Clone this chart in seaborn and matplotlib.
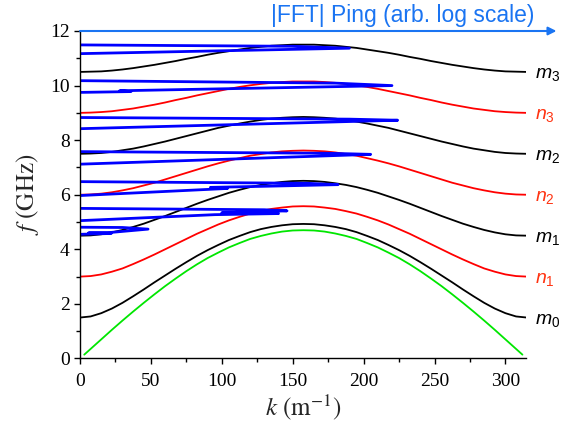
import matplotlib
matplotlib.use("Agg")
import matplotlib.pyplot as plt
from matplotlib.ticker import MultipleLocator
import seaborn as sns

# ---------------- data ----------------
k = [0, 7.5, 15, 22.5, 30, 37.5, 45, 52.5, 60, 67.5, 75, 82.5, 90, 97.5,
     105, 112.5, 120, 127.5, 135, 142.5, 150, 157.5, 165, 172.5, 180,
     187.5, 195, 202.5, 210, 217.5, 225, 232.5, 240, 247.5, 255, 262.5,
     270, 277.5, 285, 292.5, 300, 307.5, 315]
k_green = [3, 7.5, 15, 22.5, 30, 37.5, 45, 52.5, 60, 67.5, 75, 82.5, 90, 97.5,
           105, 112.5, 120, 127.5, 135, 142.5, 150, 157.5, 165, 172.5, 180,
           187.5, 195, 202.5, 210, 217.5, 225, 232.5, 240, 247.5, 255, 262.5,
           270, 277.5, 285, 292.5, 300, 307.5, 312]

green = [0.14, 0.35, 0.70, 1.05, 1.39, 1.72, 2.04, 2.35, 2.65, 2.93, 3.20,
         3.45, 3.68, 3.88, 4.07, 4.23, 4.38, 4.49, 4.58, 4.65, 4.69, 4.70,
         4.69, 4.65, 4.58, 4.49, 4.38, 4.23, 4.07, 3.88, 3.68, 3.45, 3.20,
         2.93, 2.65, 2.35, 2.04, 1.72, 1.39, 1.05, 0.70, 0.35, 0.14]
m0 = [1.50, 1.54, 1.66, 1.83, 2.04, 2.28, 2.53, 2.79, 3.04, 3.29, 3.53,
      3.76, 3.97, 4.16, 4.34, 4.49, 4.63, 4.74, 4.82, 4.88, 4.92, 4.93,
      4.92, 4.88, 4.82, 4.74, 4.63, 4.49, 4.34, 4.16, 3.97, 3.76, 3.53,
      3.29, 3.04, 2.79, 2.53, 2.28, 2.04, 1.83, 1.66, 1.54, 1.50]
n1 = [3.00, 3.02, 3.08, 3.18, 3.30, 3.46, 3.63, 3.81, 4.00, 4.19, 4.38,
      4.57, 4.74, 4.91, 5.06, 5.19, 5.31, 5.40, 5.48, 5.53, 5.57, 5.58,
      5.57, 5.53, 5.48, 5.40, 5.31, 5.19, 5.06, 4.91, 4.74, 4.57, 4.38,
      4.19, 4.00, 3.81, 3.63, 3.46, 3.30, 3.18, 3.08, 3.02, 3.00]
m1 = [4.50, 4.51, 4.55, 4.62, 4.71, 4.82, 4.94, 5.08, 5.22, 5.37, 5.52,
      5.67, 5.81, 5.94, 6.07, 6.18, 6.28, 6.36, 6.42, 6.47, 6.50, 6.51,
      6.50, 6.47, 6.42, 6.36, 6.28, 6.18, 6.07, 5.94, 5.81, 5.67, 5.52,
      5.37, 5.22, 5.08, 4.94, 4.82, 4.71, 4.62, 4.55, 4.51, 4.50]
n2 = [6.00, 6.01, 6.04, 6.09, 6.16, 6.24, 6.34, 6.44, 6.56, 6.68, 6.80,
      6.92, 7.04, 7.15, 7.25, 7.34, 7.43, 7.49, 7.55, 7.59, 7.61, 7.62,
      7.61, 7.59, 7.55, 7.49, 7.43, 7.34, 7.25, 7.15, 7.04, 6.92, 6.80,
      6.68, 6.56, 6.44, 6.34, 6.24, 6.16, 6.09, 6.04, 6.01, 6.00]
m2 = [7.50, 7.51, 7.53, 7.57, 7.63, 7.69, 7.77, 7.86, 7.95, 8.05, 8.15,
      8.25, 8.35, 8.45, 8.53, 8.61, 8.68, 8.74, 8.79, 8.82, 8.84, 8.85,
      8.84, 8.82, 8.79, 8.74, 8.68, 8.61, 8.53, 8.45, 8.35, 8.25, 8.15,
      8.05, 7.95, 7.86, 7.77, 7.69, 7.63, 7.57, 7.53, 7.51, 7.50]
n3 = [9.00, 9.01, 9.03, 9.06, 9.11, 9.16, 9.23, 9.30, 9.38, 9.47, 9.55,
      9.64, 9.72, 9.80, 9.88, 9.95, 10.01, 10.06, 10.10, 10.13, 10.15, 10.15,
      10.15, 10.13, 10.10, 10.06, 10.01, 9.95, 9.88, 9.80, 9.72, 9.64, 9.55,
      9.47, 9.38, 9.30, 9.23, 9.16, 9.11, 9.06, 9.03, 9.01, 9.00]
m3 = [10.50, 10.51, 10.52, 10.55, 10.59, 10.64, 10.70, 10.76, 10.83, 10.90, 10.98,
      11.05, 11.13, 11.20, 11.26, 11.32, 11.38, 11.42, 11.46, 11.48, 11.50, 11.50,
      11.50, 11.48, 11.46, 11.42, 11.38, 11.32, 11.26, 11.20, 11.13, 11.05, 10.98,
      10.90, 10.83, 10.76, 10.70, 10.64, 10.59, 10.55, 10.52, 10.51, 10.50]

# FFT spectra (amplitude on log scale plotted along k axis, frequency on y)
specA_k = [0, 150, 190, 0]
specA_f = [11.49, 11.44, 11.37, 11.17]
specB_k = [0, 180, 220, 28, 36, 0]
specB_f = [10.18, 10.09, 10.00, 9.81, 9.78, 9.75]
specC_k = [0, 190, 224, 0]
specC_f = [8.83, 8.77, 8.73, 8.42]
specD_k = [0, 175, 205, 0]
specD_f = [7.58, 7.52, 7.48, 7.12]
specE_k = [0, 160, 182, 130, 92, 104, 0]
specE_f = [6.48, 6.42, 6.37, 6.31, 6.27, 6.23, 5.97]
specF_k = [0, 130, 146, 100, 140, 95, 0]
specF_f = [5.50, 5.45, 5.41, 5.34, 5.31, 5.27, 5.05]
specG_k = [0, 30, 48, 22, 6, 22, 0]
specG_f = [4.81, 4.80, 4.74, 4.62, 4.60, 4.58, 4.55]

mode_names = ["m0", "n1", "m1", "n2", "m2", "n3", "m3"]
x_ticks = [0, 50, 100, 150, 200, 250, 300]
y_ticks = [0, 2, 4, 6, 8, 10, 12]
top_label = "|FFT| Ping (arb. log scale)"

# ---------------- style ----------------
sns.set_theme(style="ticks")
plt.rcParams["font.family"] = ["Liberation Serif", "DejaVu Serif"]
plt.rcParams["mathtext.fontset"] = "custom"
plt.rcParams["mathtext.it"] = "Liberation Sans:italic"
plt.rcParams["mathtext.rm"] = "Liberation Sans"

fig = plt.figure(figsize=(5.64, 4.36), dpi=100)
ax = fig.add_axes([0.1418, 0.1778, 0.7908, 0.7511])

BLACK = "#000000"
RED = "#ff0000"
GREEN = "#00e600"
BLUE = "#0000ff"
ARROW = "#1a74f2"
LABEL_RED = "#ff3311"

curves = [m0, n1, m1, n2, m2, n3, m3]
colors = [BLACK, RED, BLACK, RED, BLACK, RED, BLACK]

sns.lineplot(x=k_green, y=green, color=GREEN, lw=1.3, ax=ax,
             estimator=None, sort=False)
for vals, c in zip(curves, colors):
    sns.lineplot(x=k, y=vals, color=c, lw=1.3, ax=ax,
                 estimator=None, sort=False)

for sk, sf in [(specA_k, specA_f), (specB_k, specB_f), (specC_k, specC_f),
               (specD_k, specD_f), (specE_k, specE_f), (specF_k, specF_f),
               (specG_k, specG_f)]:
    sns.lineplot(x=sk, y=sf, color=BLUE, lw=2.0, ax=ax,
                 estimator=None, sort=False)

# right-hand mode labels
for name, vals, c in zip(mode_names, curves, colors):
    lc = BLACK if c == BLACK else LABEL_RED
    ax.text(321, vals[-1] - 0.24,
            r"$\mathit{%s}_{\mathit{%s}}$" % (name[0], name[1]),
            color=lc, fontsize=14, ha="left", va="baseline", clip_on=False)

ax.set_xlim(0, 314.5)
ax.set_ylim(0, 12)
ax.set_xticks(x_ticks)
ax.set_yticks(y_ticks)
ax.xaxis.set_minor_locator(MultipleLocator(25))
ax.yaxis.set_minor_locator(MultipleLocator(1))
ax.tick_params(axis="both", which="major", direction="out", length=4.5,
               width=1.0, colors=BLACK, labelsize=14)
ax.tick_params(axis="both", which="minor", direction="out", length=3,
               width=1.0, colors=BLACK)
ax.tick_params(axis="x", which="major", pad=6)
ax.tick_params(axis="y", which="major", pad=3)
for lab in ax.get_xticklabels() + ax.get_yticklabels():
    lab.set_family("Liberation Serif")

sns.despine(ax=ax)
for sp in ["left", "bottom"]:
    ax.spines[sp].set_color(BLACK)
    ax.spines[sp].set_linewidth(1.0)

ax.set_xlabel(r"$k\ (\mathrm{m}^{-1})$", fontsize=18, labelpad=2,
              math_fontfamily="stix")
ax.set_ylabel(r"$f\ (\mathrm{GHz})$", fontsize=18, labelpad=6,
              math_fontfamily="stix")

# top arrow and label
ax.annotate("", xy=(336, 12), xytext=(0, 12), xycoords="data",
            arrowprops=dict(arrowstyle="-|>", color=ARROW, lw=1.5,
                            mutation_scale=12, shrinkA=0, shrinkB=0),
            annotation_clip=False)
fig.text(534 / 564, 1 - 22 / 436, top_label, ha="right", va="baseline",
         family="Liberation Sans", fontsize=16.5, color=ARROW)

fig.savefig("out.png", dpi=100)
